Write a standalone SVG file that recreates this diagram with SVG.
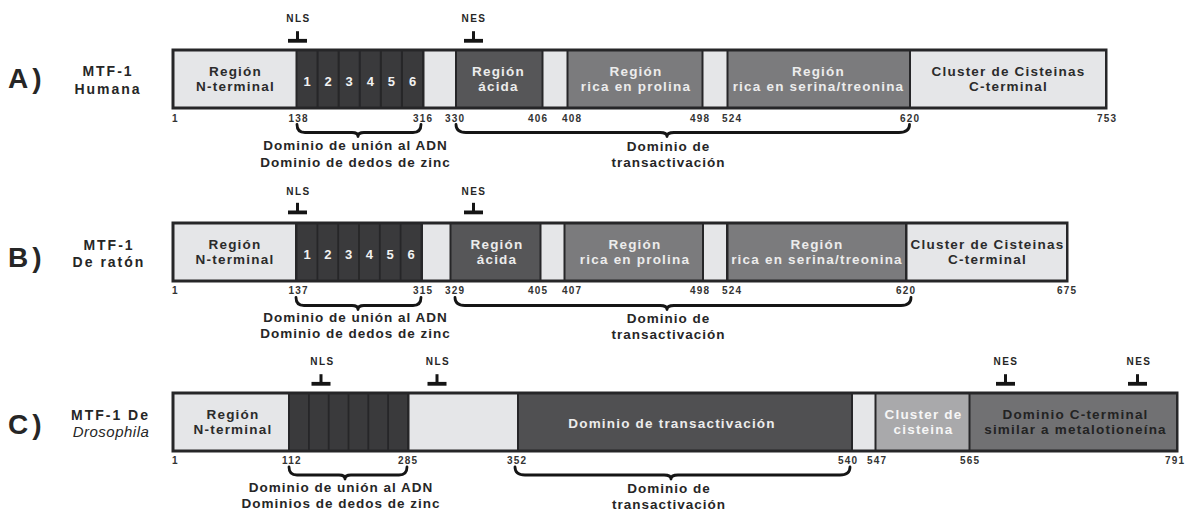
<svg xmlns="http://www.w3.org/2000/svg" width="1188" height="512" viewBox="0 0 1188 512">
  <style>
    text { font-family: "Liberation Sans", Arial, sans-serif; font-weight: bold; fill: #2b2b2b; }
    .frame { fill: #262628; }
    .light { fill: #e5e6e8; }
    .zf { fill: #3a3a3c; }
    .acid { fill: #565658; }
    .mid { fill: #7b7b7d; }
    .tad { fill: #505052; }
    .cys { fill: #a9a9ab; }
    .ct { fill: #717173; }
    .seg { font-size: 13.5px; letter-spacing: 1.2px; text-anchor: middle; }
    .on-dark { fill: #ececec; }
    .zn { font-size: 13px; text-anchor: middle; fill: #f2f2f2; }
    .num { font-size: 10px; letter-spacing: 1.2px; fill: #333; }
    .cap { font-size: 13.5px; letter-spacing: 1px; text-anchor: middle; fill: #262626; }
    .sig { font-size: 10px; letter-spacing: 1.5px; text-anchor: middle; fill: #262626; }
    .row { font-size: 28px; letter-spacing: 4px; fill: #262626; }
    .name { font-size: 14px; letter-spacing: 2px; text-anchor: middle; fill: #262626; }
    .ital { font-style: italic; font-weight: normal; font-size: 15px; letter-spacing: 0.5px; }
    .brace { fill: none; stroke: #151515; stroke-width: 2.8; stroke-linecap: round; stroke-linejoin: round; }
    .stem { stroke: #151515; stroke-width: 3; }
    .bar { fill: #151515; }
  </style>
  <defs>
    <!-- T-shaped signal marker, origin at the bottom centre of the bar -->
    <g id="tee">
      <line class="stem" x1="0" y1="-11.5" x2="0" y2="-2"/>
      <rect class="bar" x="-9.5" y="-3.8" width="19" height="3.8"/>
    </g>
  </defs>

  <!-- ===== A) human MTF-1 ===== -->
  <g id="row-a">
    <text class="row" x="8" y="88">A)</text>
    <text class="name" x="108" y="76">MTF-1</text>
    <text class="name" x="108" y="94">Humana</text>
    <rect class="frame" x="171.5" y="48.5" width="936" height="61"/>
    <g id="a-nterm">
      <rect class="light" x="174.5" y="51.5" width="121" height="55"/>
      <text class="seg" x="235.5" y="75.5">Región</text>
      <text class="seg" x="235.5" y="90.5">N-terminal</text>
    </g>
    <g id="a-zinc">
      <rect class="zf" x="297.5" y="51.5" width="19" height="55"/>
      <rect class="zf" x="318.6" y="51.5" width="19" height="55"/>
      <rect class="zf" x="339.7" y="51.5" width="19" height="55"/>
      <rect class="zf" x="360.8" y="51.5" width="19" height="55"/>
      <rect class="zf" x="381.9" y="51.5" width="19" height="55"/>
      <rect class="zf" x="403" y="51.5" width="19" height="55"/>
      <text class="zn" x="307" y="85.5">1</text>
      <text class="zn" x="328.1" y="85.5">2</text>
      <text class="zn" x="349.2" y="85.5">3</text>
      <text class="zn" x="370.3" y="85.5">4</text>
      <text class="zn" x="391.4" y="85.5">5</text>
      <text class="zn" x="412.5" y="85.5">6</text>
    </g>
    <g id="a-gap1"><rect class="light" x="424.5" y="51.5" width="30.5" height="55"/></g>
    <g id="a-acid">
      <rect class="acid" x="457" y="51.5" width="84.5" height="55"/>
      <text class="seg on-dark" x="498.5" y="75.5">Región</text>
      <text class="seg on-dark" x="498.5" y="90.5">ácida</text>
    </g>
    <g id="a-gap2"><rect class="light" x="543.5" y="51.5" width="23" height="55"/></g>
    <g id="a-pro">
      <rect class="mid" x="568.5" y="51.5" width="133" height="55"/>
      <text class="seg on-dark" x="636" y="75.5">Región</text>
      <text class="seg on-dark" x="636" y="90.5">rica en prolina</text>
    </g>
    <g id="a-gap3"><rect class="light" x="703.5" y="51.5" width="23" height="55"/></g>
    <g id="a-ser">
      <rect class="mid" x="728.5" y="51.5" width="180.5" height="55"/>
      <text class="seg on-dark" x="818.5" y="75.5">Región</text>
      <text class="seg on-dark" x="818.5" y="90.5">rica en serina/treonina</text>
    </g>
    <g id="a-cys">
      <rect class="light" x="911" y="51.5" width="194" height="55"/>
      <text class="seg" x="1008.5" y="75.5">Cluster de Cisteinas</text>
      <text class="seg" x="1008.5" y="90.5">C-terminal</text>
    </g>
    <g id="a-nums">
      <text class="num" x="172" y="122">1</text>
      <text class="num" x="288.5" y="122">138</text>
      <text class="num" x="413" y="122">316</text>
      <text class="num" x="445" y="122">330</text>
      <text class="num" x="528" y="122">406</text>
      <text class="num" x="562" y="122">408</text>
      <text class="num" x="690" y="122">498</text>
      <text class="num" x="722" y="122">524</text>
      <text class="num" x="900" y="122">620</text>
      <text class="num" x="1097" y="122">753</text>
    </g>
    <g id="a-captions">
      <text class="cap" x="355.5" y="150">Dominio de unión al ADN</text>
      <text class="cap" x="355.5" y="166.5">Dominio de dedos de zinc</text>
      <text class="cap" x="668.5" y="151">Dominio de</text>
      <text class="cap" x="668.5" y="167">transactivación</text>
    </g>
    <g id="a-signals">
      <text class="sig" x="298.5" y="21.5">NLS</text>
      <text class="sig" x="474" y="21.5">NES</text>
    </g>
  </g>

  <!-- ===== B) mouse MTF-1 ===== -->
  <g id="row-b">
    <text class="row" x="8" y="266.5">B)</text>
    <text class="name" x="109" y="250">MTF-1</text>
    <text class="name" x="109" y="266.5">De ratón</text>
    <rect class="frame" x="171.5" y="221.5" width="897" height="61"/>
    <g id="b-nterm">
      <rect class="light" x="174.5" y="224.5" width="120.5" height="55"/>
      <text class="seg" x="235" y="248.5">Región</text>
      <text class="seg" x="235" y="263.5">N-terminal</text>
    </g>
    <g id="b-zinc">
      <rect class="zf" x="297.5" y="224.5" width="19" height="55"/>
      <rect class="zf" x="318.3" y="224.5" width="19" height="55"/>
      <rect class="zf" x="339.1" y="224.5" width="19" height="55"/>
      <rect class="zf" x="359.9" y="224.5" width="19" height="55"/>
      <rect class="zf" x="380.7" y="224.5" width="19" height="55"/>
      <rect class="zf" x="401.5" y="224.5" width="19" height="55"/>
      <text class="zn" x="307" y="258.5">1</text>
      <text class="zn" x="327.8" y="258.5">2</text>
      <text class="zn" x="348.6" y="258.5">3</text>
      <text class="zn" x="369.4" y="258.5">4</text>
      <text class="zn" x="390.2" y="258.5">5</text>
      <text class="zn" x="411" y="258.5">6</text>
    </g>
    <g id="b-gap1"><rect class="light" x="423" y="224.5" width="26.5" height="55"/></g>
    <g id="b-acid">
      <rect class="acid" x="451.5" y="224.5" width="88" height="55"/>
      <text class="seg on-dark" x="497" y="248.5">Región</text>
      <text class="seg on-dark" x="497" y="263.5">ácida</text>
    </g>
    <g id="b-gap2"><rect class="light" x="541.5" y="224.5" width="22" height="55"/></g>
    <g id="b-pro">
      <rect class="mid" x="565.5" y="224.5" width="136.5" height="55"/>
      <text class="seg on-dark" x="635" y="248.5">Región</text>
      <text class="seg on-dark" x="635" y="263.5">rica en prolina</text>
    </g>
    <g id="b-gap3"><rect class="light" x="704" y="224.5" width="22" height="55"/></g>
    <g id="b-ser">
      <rect class="mid" x="728.5" y="224.5" width="176.5" height="55"/>
      <text class="seg on-dark" x="817" y="248.5">Región</text>
      <text class="seg on-dark" x="817" y="263.5">rica en serina/treonina</text>
    </g>
    <g id="b-cys">
      <rect class="light" x="907.5" y="224.5" width="158.5" height="55"/>
      <text class="seg" x="987.5" y="248.5">Cluster de Cisteinas</text>
      <text class="seg" x="987.5" y="263.5">C-terminal</text>
    </g>
    <g id="b-nums">
      <text class="num" x="172" y="294">1</text>
      <text class="num" x="288.5" y="294">137</text>
      <text class="num" x="413" y="294">315</text>
      <text class="num" x="445" y="294">329</text>
      <text class="num" x="528" y="294">405</text>
      <text class="num" x="562" y="294">407</text>
      <text class="num" x="690" y="294">498</text>
      <text class="num" x="722" y="294">524</text>
      <text class="num" x="896" y="294">620</text>
      <text class="num" x="1057" y="294">675</text>
    </g>
    <g id="b-captions">
      <text class="cap" x="355.5" y="322">Dominio de unión al ADN</text>
      <text class="cap" x="355.5" y="338">Dominio de dedos de zinc</text>
      <text class="cap" x="668.5" y="323">Dominio de</text>
      <text class="cap" x="668.5" y="339">transactivación</text>
    </g>
    <g id="b-signals">
      <text class="sig" x="298.5" y="194.5">NLS</text>
      <text class="sig" x="474" y="194.5">NES</text>
    </g>
  </g>

  <!-- ===== C) Drosophila MTF-1 ===== -->
  <g id="row-c">
    <text class="row" x="8" y="434">C)</text>
    <text class="name" x="110.5" y="420">MTF-1 De</text>
    <text class="name ital" x="111" y="436.5">Drosophila</text>
    <rect class="frame" x="171.5" y="391.5" width="1007" height="61"/>
    <g id="c-nterm">
      <rect class="light" x="174.5" y="394.5" width="113.5" height="55"/>
      <text class="seg" x="233" y="418.5">Región</text>
      <text class="seg" x="233" y="433.5">N-terminal</text>
    </g>
    <g id="c-zinc">
      <rect class="zf" x="290" y="394.5" width="18" height="55"/>
      <rect class="zf" x="309.8" y="394.5" width="18" height="55"/>
      <rect class="zf" x="329.6" y="394.5" width="18" height="55"/>
      <rect class="zf" x="349.4" y="394.5" width="18" height="55"/>
      <rect class="zf" x="369.2" y="394.5" width="18" height="55"/>
      <rect class="zf" x="389" y="394.5" width="18" height="55"/>
    </g>
    <g id="c-gap1"><rect class="light" x="409.5" y="394.5" width="107.5" height="55"/></g>
    <g id="c-tad">
      <rect class="tad" x="519" y="394.5" width="332" height="55"/>
      <text class="seg on-dark" x="672" y="428">Dominio de transactivación</text>
    </g>
    <g id="c-gap2"><rect class="light" x="853" y="394.5" width="21.5" height="55"/></g>
    <g id="c-cys">
      <rect class="cys" x="876.5" y="394.5" width="92" height="55"/>
      <text class="seg" style="fill:#f6f6f6" x="923.5" y="418.5">Cluster de</text>
      <text class="seg" style="fill:#f6f6f6" x="923.5" y="433.5">cisteina</text>
    </g>
    <g id="c-ct">
      <rect class="ct" x="970.5" y="394.5" width="205.5" height="55"/>
      <text class="seg" style="fill:#232323" x="1075.5" y="418.5">Dominio C-terminal</text>
      <text class="seg" style="fill:#232323" x="1075.5" y="433.5">similar a metalotioneína</text>
    </g>
    <g id="c-nums">
      <text class="num" x="172" y="464">1</text>
      <text class="num" x="282" y="464">112</text>
      <text class="num" x="398" y="464">285</text>
      <text class="num" x="507" y="464">352</text>
      <text class="num" x="838" y="464">540</text>
      <text class="num" x="867" y="464">547</text>
      <text class="num" x="960" y="464">565</text>
      <text class="num" x="1165" y="464">791</text>
    </g>
    <g id="c-captions">
      <text class="cap" x="341" y="492">Dominio de unión al ADN</text>
      <text class="cap" x="341" y="507.5">Dominios de dedos de zinc</text>
      <text class="cap" x="669" y="493">Dominio de</text>
      <text class="cap" x="669" y="508.5">transactivación</text>
    </g>
    <g id="c-signals">
      <text class="sig" x="322.5" y="364.5">NLS</text>
      <text class="sig" x="438" y="364.5">NLS</text>
      <text class="sig" x="1006" y="364.5">NES</text>
      <text class="sig" x="1139" y="364.5">NES</text>
    </g>
  </g>

  <!-- braces under the domains and T markers above the bars -->
  <g id="connectors">
    <path class="brace" d="M297 124.5 Q297 132.5 305 132.5 L352 132.5 Q358 132.5 358 136.5 Q358 132.5 364 132.5 L413 132.5 Q421 132.5 421 124.5"/>
    <path class="brace" d="M456 124.5 Q456 132.5 466 132.5 L660 132.5 Q667 132.5 667 136.5 Q667 132.5 674 132.5 L899 132.5 Q909.5 132.5 909.5 124.5"/>
    <path class="brace" d="M296 297.5 Q296 305.5 304 305.5 L352 305.5 Q358 305.5 358 309.5 Q358 305.5 364 305.5 L413 305.5 Q421 305.5 421 297.5"/>
    <path class="brace" d="M455 297.5 Q455 305.5 465 305.5 L660 305.5 Q667 305.5 667 309.5 Q667 305.5 674 305.5 L901 305.5 Q911 305.5 911 297.5"/>
    <path class="brace" d="M289 467 Q289 475 297 475 L339 475 Q345 475 345 479 Q345 475 351 475 L399 475 Q407 475 407 467"/>
    <path class="brace" d="M515 467 Q515 475 525 475 L664 475 Q671 475 671 479 Q671 475 678 475 L840 475 Q850 475 850 467"/>

    <use href="#tee" x="297.5" y="42.7"/>
    <use href="#tee" x="473.5" y="42.7"/>
    <use href="#tee" x="297.5" y="214.3"/>
    <use href="#tee" x="473.5" y="214.3"/>
    <use href="#tee" x="321" y="385.7"/>
    <use href="#tee" x="437" y="385.7"/>
    <use href="#tee" x="1005.5" y="385.7"/>
    <use href="#tee" x="1137.5" y="385.7"/>
  </g>
</svg>
